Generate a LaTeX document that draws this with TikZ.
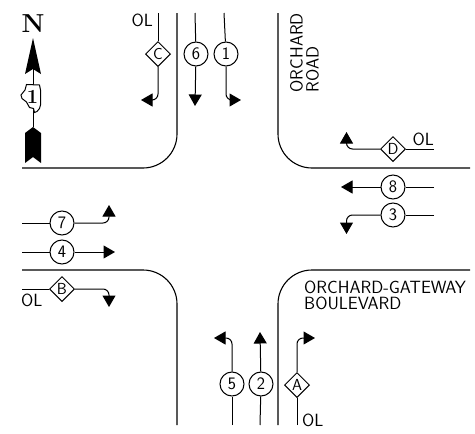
\documentclass[tikz,border=0pt]{standalone}
\usepackage{fontspec}
\setsansfont{Latin Modern Sans}
\usepackage{xcolor}
\usetikzlibrary{
    arrows.meta,
    positioning,
    shapes.geometric
}
\tikzset{
    road/.style={
        line width=1.1pt
    },
    phase/.style={
        circle,
        draw=black,
        fill=white,
        line width=1pt,
        inner sep=0pt,
        minimum size=24pt,
        font=\fontsize{17.5}{17.5}\selectfont\sffamily
    },
    overlap/.style={
        diamond,
        draw=black,
        fill=white,
        line width=1pt,
        inner sep=0pt,
        minimum size=25pt,
        font=\fontsize{16}{16}\selectfont\sffamily
    },
    arrow/.style={
        -{Triangle[length=11.5pt,width=13pt]},
        line width=1pt,
        rounded corners=6pt
    },
    stub/.style={
        line width=1pt
    },
    label/.style={
        inner sep=0pt,
        align=left,
        font=\fontsize{17.7}{16}\selectfont\sffamily
    }
}
\begin{document}
\begin{tikzpicture}[x=1pt, y=-1pt]
\useasboundingbox (0,0) rectangle (475,434);

% curb lines
\draw[road] (22,168) -- (143,168) arc[start angle=90, end angle=0, x radius=34pt, y radius=-34pt] -- (177,13);
\draw[road] (278,13) -- (278,134) arc[start angle=180, end angle=270, x radius=34pt, y radius=34pt] -- (470,168);
\draw[road] (22,270) -- (143,270) arc[start angle=90, end angle=0, x radius=34pt, y radius=34pt] -- (177,425);
\draw[road] (278,425) -- (278,304) arc[start angle=180, end angle=90, x radius=34pt, y radius=34pt] -- (470,270);

% southbound
\node[overlap] (c) at (158,54) {C};
\node[phase, right=12.5pt of c] (six) {6};
\node[phase, right=5pt of six] (one) {1};
\coordinate (c top) at (158,13);
\coordinate (six top) at (195,13);
\coordinate (one top) at (224,13);
\coordinate (c tip) at (141,100);
\coordinate (six tip) at (195,106);
\coordinate (one tip) at (241,100);
\draw[stub] (c top) -- (c);
\draw[stub] (six top) -- (six);
\draw[stub] (one top) -- (one);
\draw[arrow] (c) |- (c tip);
\draw[arrow] (six) -- (six tip);
\draw[arrow] (one) |- (one tip);
\node[label, anchor=east] (c ol) at (153,20) {OL};

% westbound
\node[overlap] (d) at (393,149) {D};
\node[phase] (eight) at (393,187) {8};
\node[phase] (three) at (393,215) {3};
\coordinate (d end) at (434,149);
\coordinate (eight end) at (434,187);
\coordinate (three end) at (434,215);
\coordinate (d tip) at (346.5,132);
\coordinate (eight tip) at (341,187);
\coordinate (three tip) at (346.5,234);
\draw[stub] (d end) -- (d);
\draw[stub] (eight end) -- (eight);
\draw[stub] (three end) -- (three);
\draw[arrow] (d) -| (d tip);
\draw[arrow] (eight) -- (eight tip);
\draw[arrow] (three) -| (three tip);
\node[label, anchor=south east] (d ol) at (434,146) {OL};

% eastbound
\node[phase] (seven) at (62,223) {7};
\node[phase] (four) at (62,252) {4};
\node[overlap] (b) at (62,289) {B};
\coordinate (seven end) at (22,223);
\coordinate (four end) at (22,252);
\coordinate (b end) at (22,289);
\coordinate (seven tip) at (109,205);
\coordinate (four tip) at (115,252);
\coordinate (b tip) at (109,307);
\draw[stub] (seven end) -- (seven);
\draw[stub] (four end) -- (four);
\draw[stub] (b end) -- (b);
\draw[arrow] (seven) -| (seven tip);
\draw[arrow] (four) -- (four tip);
\draw[arrow] (b) -| (b tip);
\node[label, anchor=north west] (b ol) at (21,294) {OL};

% northbound
\node[phase] (five) at (232,384) {5};
\node[phase, right=4pt of five] (two) {2};
\node[overlap] (a) at (297,385) {A};
\coordinate (five end) at (232,425);
\coordinate (two end) at (260,425);
\coordinate (a end) at (297,425);
\coordinate (five tip) at (214,338);
\coordinate (two tip) at (260,332);
\coordinate (a tip) at (315,338);
\draw[stub] (five end) -- (five);
\draw[stub] (two end) -- (two);
\draw[stub] (a end) -- (a);
\draw[arrow] (five) |- (five tip);
\draw[arrow] (two) -- (two tip);
\draw[arrow] (a) |- (a tip);
\node[label, anchor=west] (a ol) at (302,420) {OL};

% street names
\node[label, rotate=90, anchor=west] (orchard) at (304.5,92.5) {ORCHARD\\ROAD};
\node[label, anchor=west] (gateway) at (304,295) {ORCHARD-GATEWAY\\BOULEVARD};

% north arrow
\node[font=\fontsize{26}{26}\selectfont\bfseries, inner sep=0pt] (north) at (33,23.5) {N};
\fill (33,38) -- (41,74) -- (33,69) -- (25,74) -- cycle;
\draw[stub] (33,69) -- (33,127);
\fill (33,127) -- (41,133) -- (41,163) -- (33,157) -- (25,163) -- (25,133) -- cycle;
\draw[stub, fill=white] (26.5,84.5) -- (39.5,85) -- (40.5,90) -- (40.5,105) -- (39.5,108.5) -- (37,111.5) -- (34.5,112.5)
    -- (33.5,108.5) -- (29.5,107.5) -- (26.5,102) -- (22,98.5) -- (21,95) -- (25,90) -- cycle;
\node[font=\fontsize{20}{20}\selectfont\bfseries, inner sep=0pt] (route) at (32.5,97) {1};
\end{tikzpicture}
\end{document}
